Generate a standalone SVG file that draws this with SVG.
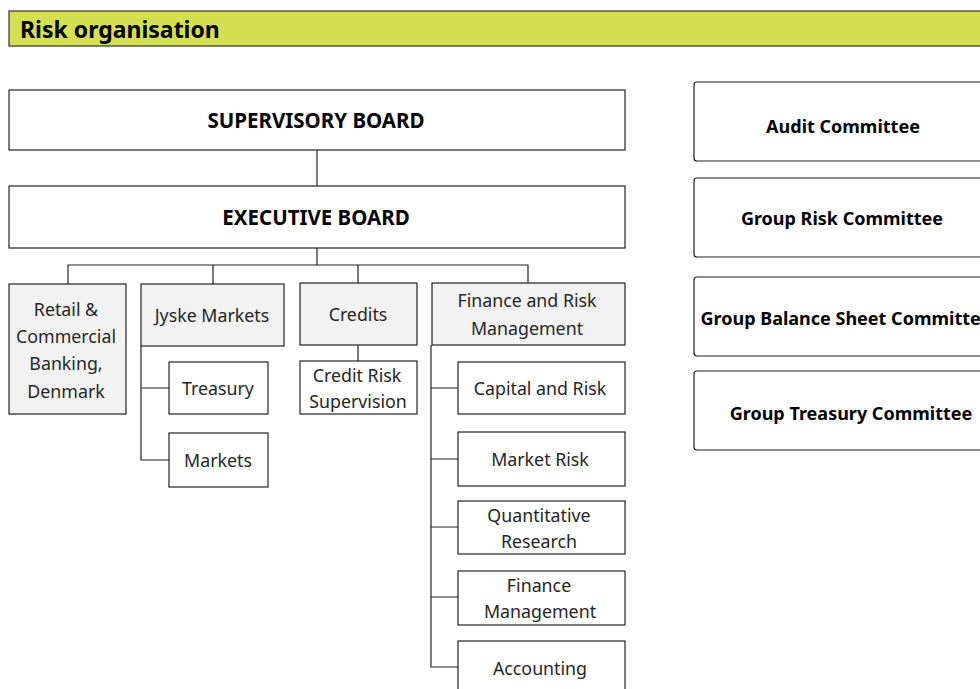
<svg xmlns="http://www.w3.org/2000/svg" width="980" height="689" viewBox="0 0 980 689">
  <style>
    .box { fill: #ffffff; stroke: #222222; stroke-width: 1.2; }
    .unit { fill: #f2f2f2; stroke: #222222; stroke-width: 1.2; }
    .cmt { fill: #ffffff; stroke: #222222; stroke-width: 1.2; }
    .t { font-family: "Noto Sans", "Open Sans", "Liberation Sans", sans-serif; font-size: 17.8px; fill: #262626; text-anchor: middle; }
    .b { font-family: "Noto Sans", "Open Sans", "Liberation Sans", sans-serif; font-size: 18px; font-weight: bold; fill: #000000; text-anchor: middle; }
    .caps { font-size: 20.5px; }
    .conn { fill: none; stroke: #222222; stroke-width: 1.2; }
  </style>
  <rect width="980" height="689" fill="#ffffff"/>

  <!-- title bar -->
  <g id="title">
    <rect x="9" y="11" width="980" height="35" fill="#d4e04f" stroke="#333333" stroke-width="1.2"/>
    <text x="20" y="38" font-family="Noto Sans, Open Sans, Liberation Sans, sans-serif" font-size="23" font-weight="bold" fill="#000">Risk organisation</text>
  </g>

  <!-- connectors -->
  <g id="connectors">
    <path class="conn" d="M317 150 V186"/>
    <path class="conn" d="M317 248 V265 M68 284 V265 H528 V283 M213 265 V284 M358 265 V283"/>
    <path class="conn" d="M141 346 V460 H169 M141 388 H169"/>
    <path class="conn" d="M358 345 V361"/>
    <path class="conn" d="M431 345 V667 H458 M431 388 H458 M431 459 H458 M431 527 H458 M431 597 H458"/>
  </g>

  <g id="supervisory-board">
    <rect class="box" x="9" y="90" width="616" height="60"/>
    <text class="b caps" x="316" y="128">SUPERVISORY BOARD</text>
  </g>
  <g id="executive-board">
    <rect class="box" x="9" y="186" width="616" height="62"/>
    <text class="b caps" x="316" y="225">EXECUTIVE BOARD</text>
  </g>

  <g id="retail">
    <rect class="unit" x="9" y="284" width="117" height="130"/>
    <text class="t" x="66" y="316">Retail &amp;</text>
    <text class="t" x="66" y="343">Commercial</text>
    <text class="t" x="66" y="370">Banking,</text>
    <text class="t" x="66" y="398">Denmark</text>
  </g>
  <g id="jyske-markets">
    <rect class="unit" x="141" y="284" width="143" height="62"/>
    <text class="t" x="212" y="322">Jyske Markets</text>
  </g>
  <g id="treasury">
    <rect class="box" x="169" y="362" width="99" height="52"/>
    <text class="t" x="218" y="395">Treasury</text>
  </g>
  <g id="markets">
    <rect class="box" x="169" y="433" width="99" height="54"/>
    <text class="t" x="218" y="467">Markets</text>
  </g>
  <g id="credits">
    <rect class="unit" x="300" y="283" width="117" height="62"/>
    <text class="t" x="358" y="321">Credits</text>
  </g>
  <g id="credit-risk-supervision">
    <rect class="box" x="300" y="361" width="117" height="53"/>
    <text class="t" x="357" y="382">Credit Risk</text>
    <text class="t" x="358" y="408">Supervision</text>
  </g>
  <g id="finance-risk">
    <rect class="unit" x="432" y="283" width="193" height="62"/>
    <text class="t" x="527" y="307">Finance and Risk</text>
    <text class="t" x="527" y="335">Management</text>
  </g>
  <g id="capital-risk">
    <rect class="box" x="458" y="362" width="167" height="52"/>
    <text class="t" x="540" y="395">Capital and Risk</text>
  </g>
  <g id="market-risk">
    <rect class="box" x="458" y="432" width="167" height="54"/>
    <text class="t" x="540" y="466">Market Risk</text>
  </g>
  <g id="quantitative-research">
    <rect class="box" x="458" y="501" width="167" height="53"/>
    <text class="t" x="539" y="522">Quantitative</text>
    <text class="t" x="539" y="548">Research</text>
  </g>
  <g id="finance-management">
    <rect class="box" x="458" y="571" width="167" height="54"/>
    <text class="t" x="539" y="592">Finance</text>
    <text class="t" x="540" y="618">Management</text>
  </g>
  <g id="accounting">
    <rect class="box" x="458" y="641" width="167" height="60"/>
    <text class="t" x="540" y="675">Accounting</text>
  </g>

  <g id="audit-committee">
    <rect class="cmt" x="694" y="82" width="300" height="79" rx="3"/>
    <text class="b" x="843" y="133">Audit Committee</text>
  </g>
  <g id="group-risk-committee">
    <rect class="cmt" x="694" y="178" width="300" height="79" rx="3"/>
    <text class="b" x="842" y="225">Group Risk Committee</text>
  </g>
  <g id="group-balance-sheet-committee">
    <rect class="cmt" x="694" y="277" width="300" height="79" rx="3"/>
    <text class="b" x="846" y="325">Group Balance Sheet Committee</text>
  </g>
  <g id="group-treasury-committee">
    <rect class="cmt" x="694" y="371" width="300" height="79" rx="3"/>
    <text class="b" x="851" y="420">Group Treasury Committee</text>
  </g>
</svg>
